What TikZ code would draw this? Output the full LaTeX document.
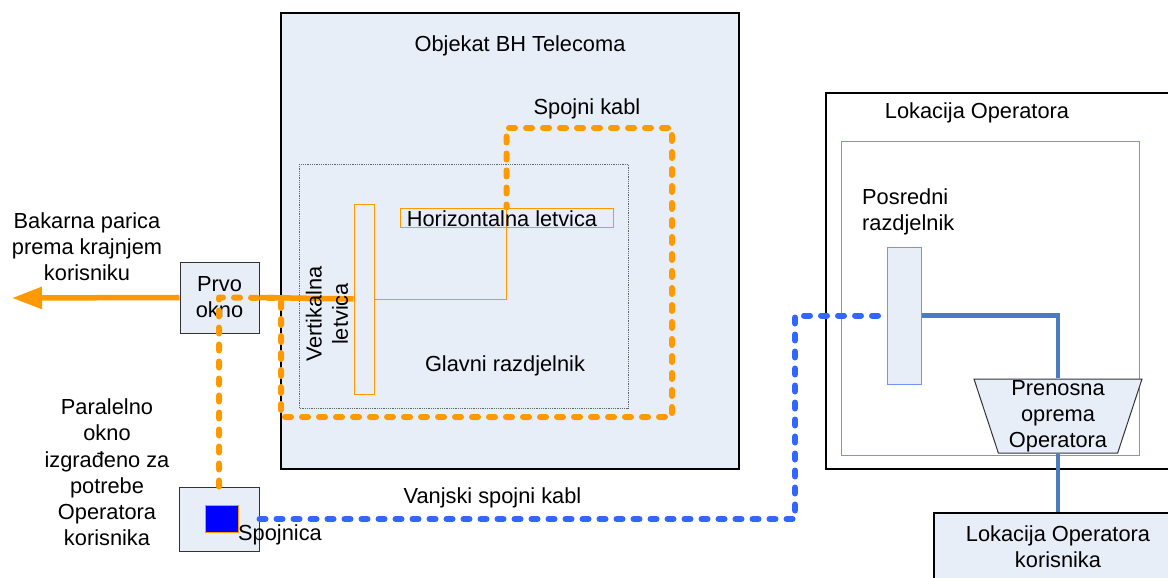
\documentclass[tikz,border=0pt]{standalone}
\usepackage{fontspec}
\setmainfont{Liberation Sans}
\usepackage{tikz}
\tikzset{>=latex}
\usetikzlibrary{arrows.meta}
\usetikzlibrary{shapes.geometric}
\definecolor{fillblue}{HTML}{E8EEF8}
\definecolor{cable}{HTML}{FF9900}
\definecolor{extcable}{HTML}{3366FF}
\definecolor{opline}{HTML}{4A7CC2}
\definecolor{frameblue}{HTML}{7394F2}
\tikzset{
  okvir/.style={draw=black, line width=2pt, fill=fillblue, inner sep=0pt},
  kutija/.style={draw=black!80, line width=1pt, fill=fillblue, inner sep=0pt},
  letva/.style={draw=cable, line width=1pt, fill=fillblue, inner sep=0pt},
  kabl/.style={cable, line width=6pt, line cap=round, line join=round, dash pattern=on 6pt off 11pt},
  vanjski/.style={extcable, line width=6pt, line cap=round, line join=round, dash pattern=on 6pt off 11pt},
}

\begin{document}
\begin{tikzpicture}[x=1pt, y=-1pt, font=\fontsize{21.8}{26.2}\selectfont]
    \useasboundingbox (0,0) rectangle (1168,578);
    % Objekat BH Telecoma
    \draw[okvir] (281,13) rectangle (739,469);
    \node[anchor=base] (objekat) at (520,52) {Objekat BH Telecoma};
    \draw[black!60, densely dotted, line width=0.8pt] (299,164) rectangle (628,408);
    \node[anchor=base] (glavni) at (505,371) {Glavni razdjelnik};
    \node[letva, minimum width=20pt, minimum height=190pt] (vert) at (364,299) {};
    \node[letva, minimum width=213pt, minimum height=19pt] (horiz) at (506.5,217.5) {};
    \draw[cable, line width=1pt] (vert.east) -| (horiz.north);
    \node[anchor=base] (horizlabel) at (502,226) {Horizontalna letvica};
    \node[kutija, minimum width=79pt, minimum height=71pt, align=center] (prvo) at (219.5,297.5) {Prvo\\okno};
    \coordinate (kraj) at (12,298);
    \draw[cable, line width=5.5pt] (vert.west) -- (prvo.east);
    \draw[cable, line width=5.5pt, -{Triangle[length=30pt, width=21pt]}] (prvo.west) -- (kraj);
    \node[rotate=90, align=center] (vertlabel) at (327,314) {Vertikalna\\letvica};
    \node[align=center] (bakar) at (87,247) {Bakarna parica\\prema krajnjem\\korisniku};
    % paralelno okno
    \node[kutija, minimum width=80pt, minimum height=64pt] (spojnica) at (219,519) {};
    \node[draw=cable, fill=blue, line width=1pt, minimum width=33pt, minimum height=27pt, inner sep=0pt] (spoj) at (221.5,518.5) {};
    \node[anchor=base west, inner sep=0pt] (spojlabel) at (238,540) {Spojnica};
    \node[align=center] (paralelno) at (107,472.5) {Paralelno\\okno\\izgrađeno za\\potrebe\\Operatora\\korisnika};
    \draw[kabl] (spojnica.north) -- (spojnica.north |- prvo.center) -- (281,298) -- (281,417) -- (672,417) -- (672,128) -- (506.5,128) -- (horiz.north);
    \node[anchor=base] (spojni) at (587,114) {Spojni kabl};
    % Lokacija Operatora
    \draw[line width=2pt] (826,93) rectangle (1180,469);
    \node[anchor=base] (lokacija) at (977,118) {Lokacija Operatora};
    \draw[frameblue, line width=1pt] (841,141) rectangle (1139,455);
    \node[anchor=west, align=left, inner sep=0pt] (posrednilabel) at (862,211.5) {Posredni\\razdjelnik};
    \node[draw=frameblue, fill=fillblue, line width=1pt, minimum width=34pt, minimum height=137pt, inner sep=0pt] (posredni) at (904,315.5) {};
    \node[trapezium, shape border rotate=180, trapezium left angle=71.3, trapezium right angle=71.3,
          trapezium stretches body, minimum width=168pt, minimum height=74pt,
          draw=black!80, fill=fillblue, line width=1pt, inner sep=0pt, align=center] (prenosna) at (1058,416) {Prenosna\\oprema\\Operatora};
    \node[okvir, minimum width=248pt, minimum height=80pt] (korisnik) at (1058,553) {};
    \node[align=center] (korisniklabel) at (1058,546.5) {Lokacija Operatora\\korisnika};
    \draw[opline, line width=4.5pt] (posredni.east) -| (prenosna);
    \draw[opline, line width=4.5pt] (prenosna) -- (korisnik);
    % vanjski spojni kabl
    \coordinate (skret) at (795,519);
    \draw[vanjski] (spojnica.east) -- (skret) |- (posredni.west);
    \node[anchor=base] (vanjski) at (492.5,503) {Vanjski spojni kabl};
\end{tikzpicture}
\end{document}
